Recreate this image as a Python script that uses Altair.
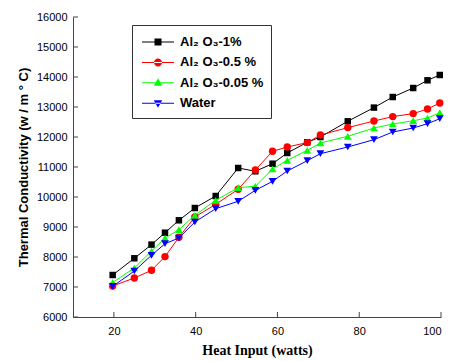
import altair as alt
import pandas as pd

series_names = ["Al\u2082 O\u2083-1%", "Al\u2082 O\u2083-0.5 %", "Al\u2082 O\u2083-0.05 %", "Water"]
colors = ["#000000", "#ff0000", "#00ff00", "#0000ff"]
marker_shapes = ["square", "circle", "triangle-up", "triangle-down"]
marker_sizes = [42, 55, 60, 60]

heat_input = [19.7, 25.0, 29.2, 32.5, 35.9, 39.8, 44.9, 50.4, 54.6, 58.8,
              62.4, 67.3, 70.5, 77.2, 83.6, 88.2, 93.2, 96.7, 99.7]

al2o3_1 = [7400, 7957, 8413, 8810, 9223, 9633, 10033, 10967, 10857, 11110,
           11467, 11823, 12000, 12523, 12980, 13333, 13633, 13890, 14067]
al2o3_05 = [7033, 7300, 7557, 8013, 8657, 9333, 9757, 10257, 10900, 11523,
            11667, 11813, 12067, 12313, 12533, 12680, 12780, 12933, 13133]
al2o3_005 = [7150, 7633, 8200, 8633, 8910, 9390, 9890, 10313, 10357, 10933,
             11223, 11557, 11800, 12023, 12300, 12433, 12543, 12633, 12810]
water = [7020, 7533, 8057, 8443, 8633, 9167, 9610, 9857, 10223, 10523,
         10867, 11210, 11443, 11667, 11910, 12167, 12300, 12443, 12610]

x_ticks = [20, 40, 60, 80, 100]
y_ticks = [6000, 7000, 8000, 9000, 10000, 11000, 12000, 13000, 14000, 15000, 16000]

all_values = [al2o3_1, al2o3_05, al2o3_005, water]

rows = []
for name, vals in zip(series_names, all_values):
    for x, y in zip(heat_input, vals):
        rows.append({"series": name, "heat": x, "k": y})
df = pd.DataFrame(rows)

x_scale = alt.Scale(domain=[10, 100], nice=False, zero=False)
y_scale = alt.Scale(domain=[6000, 16000], nice=False, zero=False)

x_axis = alt.Axis(values=x_ticks, format="d", ticks=False, grid=False,
                  domainColor="#444", labelFont="Liberation Sans", labelFontSize=11,
                  labelColor="#000", labelPadding=8, labelOverlap=False,
                  title="Heat Input (watts)", titleFont="Liberation Serif",
                  titleFontWeight="bold", titleFontSize=14, titleColor="#000",
                  titlePadding=7)
y_axis = alt.Axis(values=y_ticks, format="d", ticks=False, grid=False,
                  domainColor="#444", labelFont="Liberation Sans", labelFontSize=11,
                  labelColor="#000", labelPadding=6, labelOverlap=False,
                  title="Thermal Conductivity (w / m \u00b0 C)", titleFont="Liberation Sans",
                  titleFontWeight="bold", titleFontSize=13, titleColor="#000",
                  titlePadding=6)

X = alt.X("heat:Q", scale=x_scale, axis=x_axis)
Y = alt.Y("k:Q", scale=y_scale, axis=y_axis)

base = alt.Chart(df)

layers = []
for name, col, shp, sz in zip(series_names, colors, marker_shapes, marker_sizes):
    sub = base.transform_filter(alt.datum.series == name)
    line = sub.mark_line(strokeWidth=1, color=col).encode(x=X, y=Y)
    pts = sub.mark_point(filled=True, opacity=1, color=col, shape=shp, size=sz).encode(x=X, y=Y)
    layers += [line, pts]

# legend symbols: line segment plus marker (unit = 10 px at symbolSize 400)
legend_paths = [
    "M-1.6,-0.05H1.6V0.05H-1.6Z M-0.35,-0.35H0.35V0.35H-0.35Z",
    "M-1.6,-0.05H1.6V0.05H-1.6Z M-0.4,0A0.4,0.4 0 1,0 0.4,0A0.4,0.4 0 1,0 -0.4,0Z",
    "M-1.6,-0.05H1.6V0.05H-1.6Z M0,-0.45L0.42,0.3H-0.42Z",
    "M-1.6,-0.05H1.6V0.05H-1.6Z M0,0.45L0.42,-0.3H-0.42Z",
]

leg = alt.Legend(title=None, orient="none", legendX=59, legendY=8,
                 symbolSize=400, symbolOpacity=1, symbolStrokeWidth=0,
                 labelFont="Liberation Sans", labelFontSize=13, labelFontWeight="bold",
                 labelColor="#000", labelOffset=12, padding=7, rowPadding=3.4,
                 strokeColor="#333", fillColor="#ffffff", symbolOffset=9)

legend_layer = base.mark_point(filled=True, opacity=0).encode(
    x=X, y=Y,
    fill=alt.Fill("series:N", scale=alt.Scale(domain=series_names, range=colors), legend=leg),
    shape=alt.Shape("series:N", scale=alt.Scale(domain=series_names, range=legend_paths), legend=leg),
)

tick_x = alt.Chart(pd.DataFrame({"t": x_ticks})).mark_rule(color="#444", strokeWidth=1).encode(
    x=alt.X("t:Q", scale=x_scale, axis=x_axis), y=alt.value(300), y2=alt.value(295))
tick_y = alt.Chart(pd.DataFrame({"t": y_ticks})).mark_rule(color="#444", strokeWidth=1).encode(
    y=alt.Y("t:Q", scale=y_scale, axis=y_axis), x=alt.value(0), x2=alt.value(5))

chart = alt.layer(*layers, legend_layer, tick_x, tick_y).properties(
    width=368, height=300,
    autosize=alt.AutoSizeParams(type="none"),
    padding={"left": 73, "top": 17, "right": 9, "bottom": 44},
    background="#ffffff",
).configure_view(stroke=None).configure_axis(labelOverlap=False)

chart.save("out.html", embed_options={"renderer": "svg", "actions": False})
